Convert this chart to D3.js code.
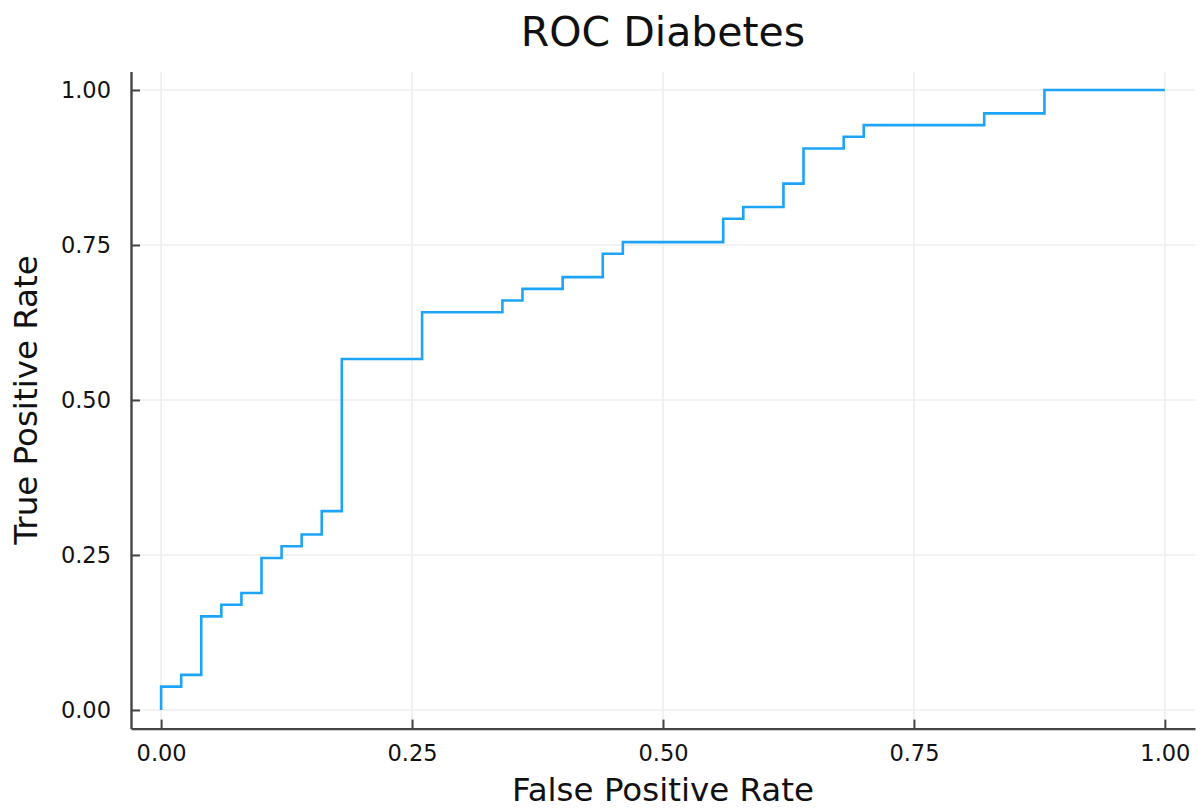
<!DOCTYPE html>
<html>
<head>
<meta charset="utf-8">
<script src="https://cdn.jsdelivr.net/npm/d3@7"></script>
<style>
  html, body { margin: 0; padding: 0; background: #fff; }
  svg { display: block; font-family: "DejaVu Sans", sans-serif; }
</style>
</head>
<body>
<svg id="chart" width="1202" height="810"></svg>
<script>
// ROC curve points (step function): false positive rate / true positive rate
const fpr = [0.00, 0.00, 0.02, 0.02, 0.04, 0.04, 0.06, 0.06, 0.08, 0.08, 0.10, 0.10,
             0.12, 0.12, 0.14, 0.14, 0.16, 0.16, 0.18, 0.18, 0.26, 0.26, 0.34, 0.34,
             0.36, 0.36, 0.40, 0.40, 0.44, 0.44, 0.46, 0.46, 0.56, 0.56, 0.58, 0.58,
             0.62, 0.62, 0.64, 0.64, 0.68, 0.68, 0.70, 0.70, 0.82, 0.82, 0.88, 0.88, 1.00];
const tpr = [0/53, 2/53, 2/53, 3/53, 3/53, 8/53, 8/53, 9/53, 9/53, 10/53, 10/53, 13/53,
             13/53, 14/53, 14/53, 15/53, 15/53, 17/53, 17/53, 30/53, 30/53, 34/53, 34/53, 35/53,
             35/53, 36/53, 36/53, 37/53, 37/53, 39/53, 39/53, 40/53, 40/53, 42/53, 42/53, 43/53,
             43/53, 45/53, 45/53, 48/53, 48/53, 49/53, 49/53, 50/53, 50/53, 51/53, 51/53, 53/53, 53/53];
const tickValues = [0, 0.25, 0.5, 0.75, 1.0];
const tickLabels = ["0.00", "0.25", "0.50", "0.75", "1.00"];
const titleText = "ROC Diabetes";
const xLabelText = "False Positive Rate";
const yLabelText = "True Positive Rate";

const svg = d3.select("#chart");
const plotLeft = 131, plotRight = 1195, plotTop = 71.4, plotBottom = 728.6;

const x = d3.scaleLinear().domain([-0.03, 1.03]).range([plotLeft, plotRight]);
const y = d3.scaleLinear().domain([-0.03, 1.03]).range([plotBottom, plotTop]);

const gridColor = "#eeeeee";
const axisColor = "#444444";
const textColor = "#111";

// grid lines
const grid = svg.append("g");
grid.selectAll("line.vx").data(tickValues).join("line")
  .attr("x1", d => x(d)).attr("x2", d => x(d))
  .attr("y1", plotTop).attr("y2", plotBottom)
  .attr("stroke", gridColor).attr("stroke-width", 1.6);
grid.selectAll("line.hy").data(tickValues).join("line")
  .attr("y1", d => y(d)).attr("y2", d => y(d))
  .attr("x1", plotLeft).attr("x2", plotRight)
  .attr("stroke", gridColor).attr("stroke-width", 1.6);

// axes: inward ticks, frame only on left and bottom
const xAxis = d3.axisBottom(x).tickValues(tickValues)
  .tickFormat((d, i) => tickLabels[i]).tickSizeInner(-9).tickSizeOuter(0).tickPadding(16);
const yAxis = d3.axisLeft(y).tickValues(tickValues)
  .tickFormat((d, i) => tickLabels[i]).tickSizeInner(-9).tickSizeOuter(0).tickPadding(20);

const gx = svg.append("g").attr("transform", `translate(0,${plotBottom})`).call(xAxis);
const gy = svg.append("g").attr("transform", `translate(${plotLeft},0)`).call(yAxis);
[gx, gy].forEach(g => {
  g.select(".domain").attr("stroke", axisColor).attr("stroke-width", 2.4);
  g.selectAll(".tick line").attr("stroke", axisColor).attr("stroke-width", 2);
  g.selectAll(".tick text").attr("fill", textColor)
    .style("font-family", "'DejaVu Sans', sans-serif").style("font-size", "22.5px");
});

// ROC step line
const line = d3.line().x((d, i) => x(fpr[i])).y((d, i) => y(tpr[i]));
svg.append("path")
  .datum(fpr)
  .attr("d", line)
  .attr("fill", "none")
  .attr("stroke", "#1ea4f7")
  .attr("stroke-width", 2.6)
  .attr("stroke-linejoin", "miter");

// title and axis labels
svg.append("text").attr("x", (plotLeft + plotRight) / 2).attr("y", 46)
  .attr("text-anchor", "middle").attr("fill", textColor)
  .style("font-size", "41px").text(titleText);
svg.append("text").attr("x", (plotLeft + plotRight) / 2).attr("y", 801)
  .attr("text-anchor", "middle").attr("fill", textColor)
  .style("font-size", "32.5px").text(xLabelText);
svg.append("text")
  .attr("transform", `translate(37,400) rotate(-90)`)
  .attr("text-anchor", "middle").attr("fill", textColor)
  .style("font-size", "32.5px").text(yLabelText);
</script>
</body>
</html>
